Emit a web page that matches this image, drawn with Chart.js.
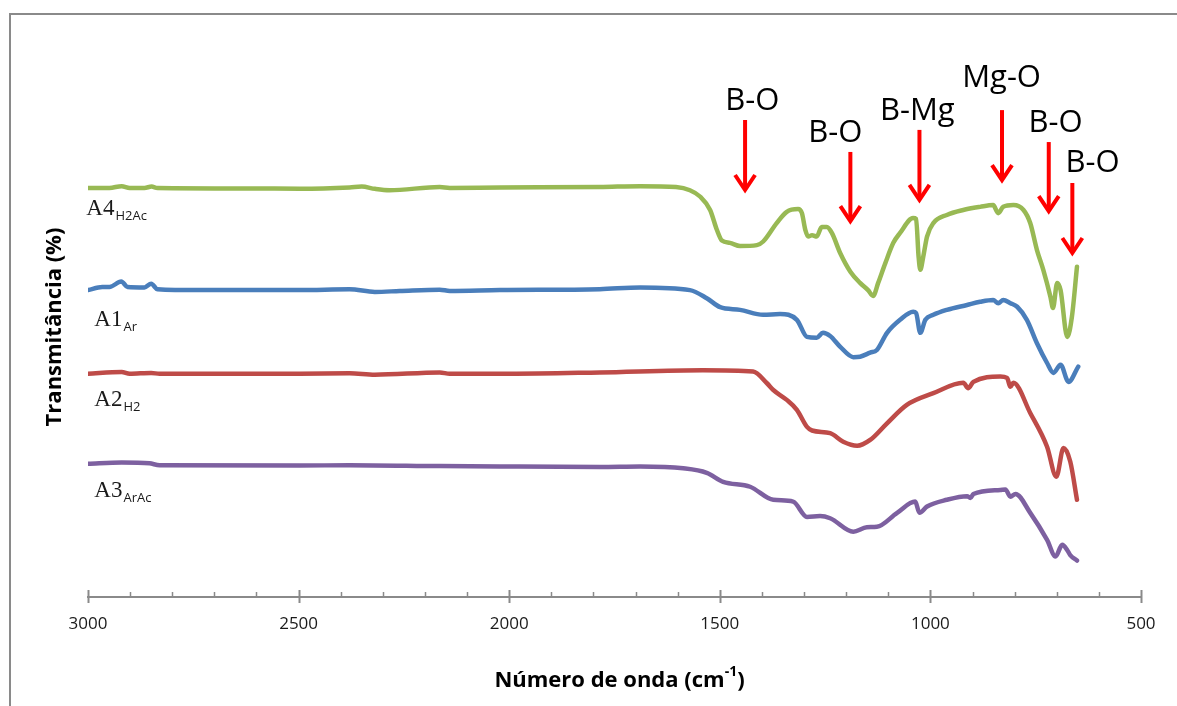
<!DOCTYPE html>
<html>
<head>
<meta charset="utf-8">
<script src="https://cdn.jsdelivr.net/npm/chart.js@4/dist/chart.umd.min.js"></script>
<style>
	html, body { margin: 0; padding: 0; background: #ffffff; overflow: hidden; }
	#wrap { width: 1177px; height: 706px; position: relative; }
</style>
</head>
<body>
<div id="wrap"><canvas id="chart-area" width="1177" height="706"></canvas></div>
<script>
/*
 * Espectros FTIR: numero de onda (cm-1) e transmitancia (u.a., deslocada).
 */
var a4Wn = [3000, 2949, 2920, 2901, 2866, 2849, 2835, 2616, 2497, 2379, 2350, 2319, 2284, 2165, 2141, 2022, 1785, 1689, 1604, 1571, 1547, 1523, 1507, 1495, 1476, 1452, 1412, 1397, 1365, 1341, 1314, 1305, 1297, 1290, 1281, 1270, 1258, 1246, 1234, 1214, 1190, 1167, 1148, 1136, 1124, 1107, 1088, 1072, 1041, 1034, 1028, 1024, 1017, 1008, 993, 961, 922, 882, 851, 839, 827, 803, 779, 763, 747, 732, 715, 709, 699, 691, 675, 664, 652];
var a4T = [90.9, 90.9, 91.3, 90.9, 90.9, 91.2, 90.9, 90.8, 90.7, 91.0, 91.2, 90.7, 90.4, 91.1, 90.9, 91.0, 91.1, 91.3, 91.1, 90.4, 89.0, 86.0, 81.6, 79.2, 78.7, 78.0, 78.2, 79.0, 83.1, 85.6, 86.2, 85.3, 81.6, 80.1, 80.4, 80.1, 82.2, 82.2, 80.9, 76.4, 72.3, 69.8, 68.2, 66.9, 69.8, 74.2, 78.7, 80.9, 84.2, 84.0, 75.6, 72.7, 75.6, 80.1, 83.1, 84.9, 86.0, 86.7, 87.1, 85.3, 86.7, 87.1, 86.0, 83.1, 77.1, 72.7, 66.7, 64.2, 69.8, 68.2, 57.8, 62.3, 73.4];

var a1Wn = [3000, 2966, 2949, 2921, 2906, 2866, 2850, 2835, 2735, 2497, 2379, 2319, 2260, 2165, 2141, 2022, 1785, 1689, 1571, 1531, 1499, 1452, 1397, 1357, 1317, 1293, 1270, 1255, 1238, 1214, 1183, 1167, 1143, 1127, 1103, 1072, 1041, 1034, 1024, 1012, 993, 961, 913, 882, 851, 839, 827, 810, 794, 771, 747, 723, 708, 691, 672, 649];
var a1T = [68.2, 68.9, 68.9, 70.1, 68.9, 68.8, 69.6, 68.4, 68.2, 68.2, 68.4, 67.8, 68.0, 68.3, 68.0, 68.2, 68.4, 68.8, 68.2, 66.4, 64.4, 63.8, 62.7, 62.9, 61.6, 57.8, 57.6, 58.7, 58.0, 55.6, 53.3, 53.4, 54.3, 54.9, 58.7, 61.6, 63.4, 63.1, 58.7, 61.6, 62.7, 63.8, 64.9, 65.6, 66.0, 65.3, 66.0, 65.3, 64.5, 61.6, 56.4, 52.0, 49.8, 51.6, 47.8, 51.2];

var a2Wn = [3000, 2920, 2901, 2850, 2830, 2497, 2379, 2319, 2165, 2141, 1998, 1785, 1540, 1421, 1388, 1373, 1341, 1317, 1293, 1281, 1238, 1207, 1174, 1143, 1103, 1056, 993, 922, 910, 898, 834, 818, 810, 803, 763, 723, 701, 684, 668, 652];
var a2T = [49.6, 50.0, 49.6, 49.8, 49.6, 49.6, 49.7, 49.4, 49.9, 49.6, 49.6, 49.9, 50.4, 50.1, 47.5, 46.0, 43.8, 41.6, 37.8, 37.0, 36.4, 34.5, 33.6, 34.9, 38.6, 42.7, 45.3, 47.6, 46.4, 47.8, 49.0, 48.7, 46.7, 47.6, 40.9, 33.4, 26.7, 33.1, 30.1, 21.6];

var a3Wn = [3000, 2920, 2854, 2830, 2497, 2379, 2165, 2022, 1785, 1689, 1587, 1531, 1492, 1428, 1373, 1326, 1293, 1262, 1238, 1183, 1151, 1127, 1079, 1036, 1026, 1008, 961, 913, 905, 898, 834, 822, 810, 798, 763, 723, 703, 687, 675, 668, 652];
var a3T = [29.6, 29.9, 29.7, 29.3, 29.2, 29.3, 29.1, 29.0, 28.9, 29.0, 28.6, 27.6, 25.6, 24.5, 21.6, 21.2, 17.8, 18.0, 17.5, 14.5, 15.5, 15.6, 18.7, 21.2, 18.7, 20.1, 21.6, 22.4, 22.0, 22.9, 23.8, 23.9, 22.3, 22.9, 18.7, 12.7, 9.0, 11.6, 10.4, 9.3, 8.1];

var xTicks = [3000, 2500, 2000, 1500, 1000, 500];

/*
 * Setas das bandas.
 */
var bandNames = ['B-O', 'B-O', 'B-Mg', 'Mg-O', 'B-O', 'B-O'];
var bandWn = [1440, 1190, 1026, 830, 719, 663];
var bandTop = [106.0, 98.9, 103.8, 108.2, 101.1, 92.0];
var bandTip = [90.0, 83.1, 87.8, 92.2, 85.3, 76.0];
var bandTextWn = [1423, 1226, 1031, 831, 703, 615];
var bandTextT = [108.2, 101.1, 106.0, 113.3, 103.3, 94.4];

/*
 * Nomes das amostras.
 */
var sampleMain = ['A4', 'A1', 'A2', 'A3'];
var sampleSub = ['H2Ac', 'Ar', 'H2', 'ArAc'];
var sampleWn = [3004, 2985, 2985, 2985];
var sampleT = [84.9, 60.2, 42.4, 22.2];

var colors = ['#98B954', '#4A7EBB', '#BE4B48', '#7D60A0'];

function toPoints(wn, t) {
	var pts = [];
	for (var i = 0; i < wn.length; i++) {
		pts.push({ x : wn[i], y : t[i] });
	}
	return pts;
}

function makeSet(label, wn, t, color) {
	return {
		label : label,
		data : toPoints(wn, t),
		borderColor : color,
		backgroundColor : color,
		borderWidth : 4.5,
		pointRadius : 0,
		fill : false,
		cubicInterpolationMode : 'monotone',
		borderCapStyle : 'round',
		borderJoinStyle : 'round'
	};
}

var extras = {
	id : 'extras',
	beforeDraw : function(chart) {
		// moldura (so topo e esquerda aparecem)
		var ctx = chart.ctx;
		ctx.save();
		ctx.strokeStyle = '#8a8a8a';
		ctx.lineWidth = 2;
		ctx.beginPath();
		ctx.moveTo(10, 706);
		ctx.lineTo(10, 14);
		ctx.lineTo(1177, 14);
		ctx.stroke();
		ctx.restore();
	},
	afterDraw : function(chart) {
		var ctx = chart.ctx;
		var xs = chart.scales.x;
		var ys = chart.scales.y;
		var base = chart.chartArea.bottom;
		ctx.save();

		// marcas do eixo x
		ctx.strokeStyle = '#8a8a8a';
		for (var w = 3000; w >= 500; w -= 100) {
			var px = Math.round(xs.getPixelForValue(w)) + 0.5;
			ctx.beginPath();
			if (w % 500 == 0) {
				ctx.lineWidth = 2;
				ctx.moveTo(px, base - 7);
				ctx.lineTo(px, base + 6);
			} else {
				ctx.lineWidth = 1.5;
				ctx.moveTo(px, base - 5);
				ctx.lineTo(px, base);
			}
			ctx.stroke();
		}

		// titulo do eixo x com expoente
		ctx.fillStyle = '#000000';
		ctx.textBaseline = 'alphabetic';
		var t1 = 'Número de onda (cm';
		var t2 = '-1';
		var t3 = ')';
		ctx.font = 'bold 22px "Open Sans"';
		var w1 = ctx.measureText(t1).width;
		var w3 = ctx.measureText(t3).width;
		ctx.font = 'bold 14px "Open Sans"';
		var w2 = ctx.measureText(t2).width;
		var cx = (chart.chartArea.left + chart.chartArea.right) / 2 + 5;
		var sx = cx - (w1 + w2 + w3) / 2;
		ctx.textAlign = 'left';
		ctx.font = 'bold 22px "Open Sans"';
		ctx.fillText(t1, sx, 687);
		ctx.font = 'bold 14px "Open Sans"';
		ctx.fillText(t2, sx + w1, 676);
		ctx.font = 'bold 22px "Open Sans"';
		ctx.fillText(t3, sx + w1 + w2, 687);

		// titulo do eixo y
		ctx.save();
		ctx.translate(61, (chart.chartArea.top + chart.chartArea.bottom) / 2);
		ctx.rotate(-Math.PI / 2);
		ctx.textAlign = 'center';
		ctx.font = 'bold 22px "Open Sans"';
		ctx.fillText('Transmitância (%)', 0, 0);
		ctx.restore();

		// nomes das amostras
		for (var i = 0; i < sampleMain.length; i++) {
			var lx = xs.getPixelForValue(sampleWn[i]);
			var ly = ys.getPixelForValue(sampleT[i]);
			ctx.textAlign = 'left';
			ctx.font = '23px "Liberation Serif"';
			ctx.fillStyle = '#1a1a1a';
			ctx.fillText(sampleMain[i], lx, ly);
			var mw = ctx.measureText(sampleMain[i]).width;
			ctx.font = '13px "Open Sans"';
			ctx.fillText(sampleSub[i], lx + mw + 1, ly + 5);
		}

		// setas vermelhas
		ctx.strokeStyle = '#ff0000';
		ctx.lineWidth = 4;
		ctx.lineJoin = 'miter';
		for (var j = 0; j < bandWn.length; j++) {
			var ax = xs.getPixelForValue(bandWn[j]);
			var top = ys.getPixelForValue(bandTop[j]);
			var tip = ys.getPixelForValue(bandTip[j]);
			ctx.beginPath();
			ctx.moveTo(ax, top);
			ctx.lineTo(ax, tip - 3);
			ctx.stroke();
			ctx.beginPath();
			ctx.moveTo(ax - 10, tip - 17);
			ctx.lineTo(ax, tip - 2);
			ctx.lineTo(ax + 10, tip - 17);
			ctx.stroke();

			ctx.fillStyle = '#000000';
			ctx.textAlign = 'center';
			ctx.font = '31px "Open Sans"';
			ctx.fillText(bandNames[j], xs.getPixelForValue(bandTextWn[j]), ys.getPixelForValue(bandTextT[j]));
		}
		ctx.restore();
	}
};

var config = {
	type : 'line',
	data : {
		datasets : [
			makeSet('A4', a4Wn, a4T, colors[0]),
			makeSet('A1', a1Wn, a1T, colors[1]),
			makeSet('A2', a2Wn, a2T, colors[2]),
			makeSet('A3', a3Wn, a3T, colors[3])
		]
	},
	options : {
		responsive : false,
		animation : false,
		layout : {
			padding : { left : 88, right : 36, top : 57, bottom : 49 }
		},
		plugins : {
			legend : { display : false },
			tooltip : { enabled : false }
		},
		scales : {
			x : {
				type : 'linear',
				reverse : true,
				min : 500,
				max : 3000,
				afterBuildTicks : function(axis) {
					axis.ticks = xTicks.map(function(v) { return { value : v }; });
				},
				afterFit : function(axis) {
					axis.height = 60;
				},
				grid : { display : false, drawTicks : false },
				border : { display : true, color : '#8a8a8a', width : 2 },
				ticks : {
					padding : 17,
					color : '#1a1a1a',
					font : { family : 'Open Sans', size : 17 },
					maxRotation : 0,
					callback : function(v) { return String(v); }
				}
			},
			y : {
				display : false,
				min : 0,
				max : 120
			}
		}
	},
	plugins : [ extras ]
};

window.onload = function() {
	var ctx = document.getElementById('chart-area').getContext('2d');
	window.myChart = new Chart(ctx, config);
};
</script>
</body>
</html>
